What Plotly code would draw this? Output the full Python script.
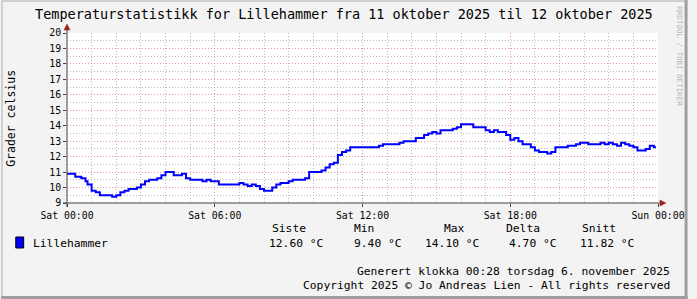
import plotly.graph_objects as go

# ---- data ----
times = ["00:00", "00:20", "00:35", "00:45", "00:50", "01:00", "01:10", "01:20", "01:50", "02:00",
         "02:10", "02:20", "02:30", "02:50", "03:00", "03:10", "03:20", "03:40", "03:50", "04:00",
         "04:20", "04:40", "04:50", "05:00", "05:30", "05:40", "05:50", "06:10", "07:00", "07:10",
         "07:20", "07:30", "07:40", "07:50", "08:00", "08:20", "08:30", "08:40", "09:00", "09:10",
         "09:40", "09:50", "10:20", "10:30", "10:40", "10:50", "11:00", "11:10", "11:20", "11:30",
         "12:40", "12:50", "13:30", "13:40", "14:10", "14:30", "14:40", "14:50", "15:00", "15:10",
         "15:40", "15:50", "16:00", "16:30", "17:00", "17:10", "17:20", "17:30", "17:50", "18:00",
         "18:10", "18:20", "18:30", "18:50", "19:00", "19:10", "19:30", "19:40", "19:50", "20:20",
         "20:40", "20:50", "21:10", "21:40", "21:50", "22:00", "22:10", "22:20", "22:30", "22:40",
         "22:50", "23:00", "23:10", "23:30", "23:40", "23:50", "23:55"]
temps = [10.9, 10.7, 10.6, 10.4, 10.2, 9.8, 9.7, 9.5, 9.4, 9.5,
         9.7, 9.8, 9.9, 10.0, 10.2, 10.4, 10.5, 10.6, 10.8, 11.0,
         10.8, 10.9, 10.6, 10.5, 10.4, 10.5, 10.4, 10.2, 10.3, 10.2,
         10.1, 10.2, 10.1, 9.9, 9.8, 10.0, 10.2, 10.3, 10.4, 10.5,
         10.6, 11.0, 11.1, 11.3, 11.5, 11.6, 12.1, 12.3, 12.4, 12.6,
         12.7, 12.8, 12.9, 13.0, 13.2, 13.4, 13.5, 13.6, 13.5, 13.7,
         13.8, 13.9, 14.1, 13.9, 13.7, 13.6, 13.7, 13.6, 13.4, 13.1,
         13.2, 13.0, 12.8, 12.6, 12.4, 12.3, 12.2, 12.3, 12.6, 12.7,
         12.8, 12.9, 12.8, 12.9, 12.8, 12.9, 12.8, 12.7, 12.9, 12.8,
         12.7, 12.6, 12.4, 12.5, 12.7, 12.6, 12.6]
day = "2025-10-11"
series_name = "Lillehammer"
stat_headers = ["Siste", "Min", "Max", "Delta", "Snitt"]
stat_values = ["12.60 °C", "9.40 °C", "14.10 °C", "4.70 °C", "11.82 °C"]
title_text = "Temperaturstatistikk for Lillehammer fra 11 oktober 2025 til 12 oktober 2025"
y_title = "Grader celsius"
footer1 = "Generert klokka 00:28 torsdag 6. november 2025"
footer2 = "Copyright 2025 © Jo Andreas Lien - All rights reserved"
side_text = "RRDTOOL / TOBI OETIKER"

x_vals = [f"{day} {t}" for t in times]

W, H = 697, 299
L, R, T, B = 67, 667, 33, 203
FONT = "DejaVu Sans Mono"


def px(x):
    return (x - L) / (R - L)


def py(y):
    return (B - y) / (B - T)


fig = go.Figure()
fig.add_trace(go.Scatter(x=x_vals, y=temps, mode="lines", line=dict(color="#0000FF", width=2, shape="hv"),
                         showlegend=False, hoverinfo="skip"))

grid_major = "rgba(220,120,120,0.75)"
grid_minor = "rgba(170,170,170,0.8)"

fig.update_layout(
    width=W, height=H,
    margin=dict(l=L, r=W - R, t=T, b=H - B, pad=0),
    paper_bgcolor="#F3F3F3",
    plot_bgcolor="#FFFFFF",
    font=dict(family=FONT, size=10, color="#000000"),
    xaxis=dict(
        type="date",
        range=[f"{day} 00:00", "2025-10-12 00:00"],
        tick0=f"{day} 00:00", dtick=6 * 3600 * 1000,
        tickformat="%a %H:%M",
        showgrid=True, gridcolor=grid_major, griddash="1px,2px", gridwidth=1,
        minor=dict(dtick=3600 * 1000, showgrid=True, gridcolor=grid_minor, griddash="1px,2px",
                   ticks=""),
        showline=False, zeroline=False,
        ticks="outside", ticklen=3, tickcolor="#404040",
        tickfont=dict(family=FONT, size=9.8),
        fixedrange=True,
    ),
    yaxis=dict(
        range=[9, 20], dtick=1, tick0=9,
        showgrid=True, gridcolor=grid_major, griddash="1px,2px", gridwidth=1,
        minor=dict(dtick=0.5, showgrid=True, gridcolor=grid_minor, griddash="1px,2px", ticks=""),
        showline=False, zeroline=False,
        ticks="outside", ticklen=3, tickcolor="#404040",
        tickfont=dict(family=FONT, size=9.8),
        fixedrange=True,
    ),
)

shapes = []
# frame borders
shapes.append(dict(type="rect", xref="paper", yref="paper", x0=px(0), x1=px(W), y0=py(0), y1=py(2),
                   fillcolor="#CFCFCF", line=dict(width=0), layer="below"))
shapes.append(dict(type="rect", xref="paper", yref="paper", x0=px(0), x1=px(2), y0=py(0), y1=py(H),
                   fillcolor="#CFCFCF", line=dict(width=0), layer="below"))
shapes.append(dict(type="rect", xref="paper", yref="paper", x0=px(0), x1=px(W), y0=py(H - 3), y1=py(H),
                   fillcolor="#9E9E9E", line=dict(width=0), layer="below"))
shapes.append(dict(type="rect", xref="paper", yref="paper", x0=px(W - 3), x1=px(W), y0=py(0), y1=py(H),
                   fillcolor="#9E9E9E", line=dict(width=0), layer="below"))
# axis lines
shapes.append(dict(type="line", xref="paper", yref="paper", x0=px(L - 4), x1=px(R + 2), y0=0, y1=0,
                   line=dict(color="#404040", width=1)))
shapes.append(dict(type="line", xref="paper", yref="paper", x0=0, x1=0, y0=py(B + 4), y1=py(T - 3),
                   line=dict(color="#404040", width=1)))
# arrow heads
shapes.append(dict(type="path", xref="paper", yref="paper", xsizemode="pixel", ysizemode="pixel",
                   xanchor=px(R + 2), yanchor=0, path="M 0 -3 L 6 0 L 0 3 Z",
                   fillcolor="#992222", line=dict(color="#992222", width=0.5)))
shapes.append(dict(type="path", xref="paper", yref="paper", xsizemode="pixel", ysizemode="pixel",
                   xanchor=0, yanchor=py(T - 3), path="M -3 0 L 3 0 L 0 6 Z",
                   fillcolor="#992222", line=dict(color="#992222", width=0.5)))
# legend colour box
shapes.append(dict(type="rect", xref="paper", yref="paper", x0=px(15), x1=px(23), y0=py(248), y1=py(237),
                   fillcolor="#0000FF", line=dict(color="#000000", width=1)))
fig.update_layout(shapes=shapes)

ann = []


def text(x, y, s, size=11.3, xanchor="left", color="#000000", angle=0):
    ann.append(dict(x=px(x), y=py(y), xref="paper", yref="paper", text=s, showarrow=False,
                    xanchor=xanchor, yanchor="middle", textangle=angle,
                    font=dict(family=FONT, size=size, color=color)))


text(348, 14, title_text, size=13.5, xanchor="center")
text(10, 118, y_title, size=11.5, xanchor="center", angle=-90)
text(688, 56, side_text, size=7.5, xanchor="center", color="#B8B8B8", angle=90)
text(30, 243, series_name)
head_x = [292, 369, 460, 530, 607]
val_x = [270, 356, 428, 514, 586]
for hx, h in zip(head_x, stat_headers):
    text(hx, 229, h, xanchor="center")
for vx, v in zip(val_x, stat_values):
    text(vx, 243, v)
text(681, 271, footer1, xanchor="right")
text(681, 285, footer2, xanchor="right")
fig.update_layout(annotations=ann)

fig.write_html("out.html")
